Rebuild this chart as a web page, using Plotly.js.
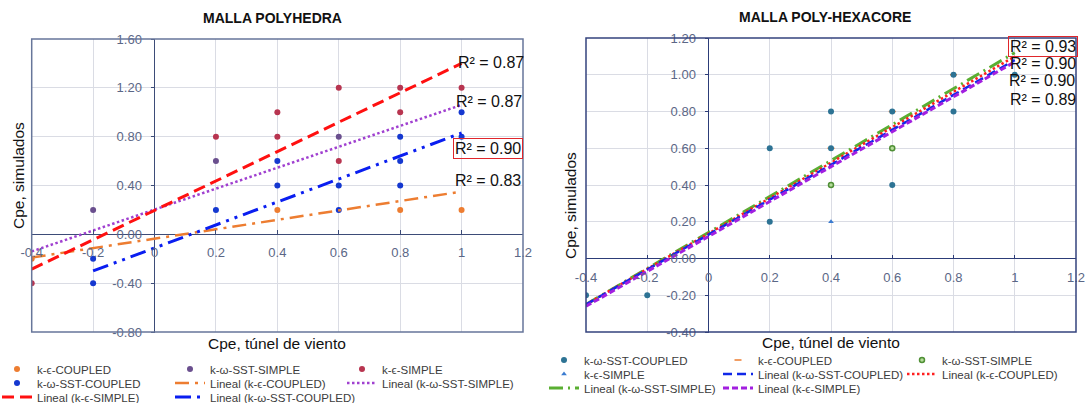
<!DOCTYPE html>
<html><head><meta charset="utf-8">
<script src="https://cdn.plot.ly/plotly-3.0.1.min.js"></script>
<style>html,body{margin:0;padding:0;background:#fff}#chart{width:1088px;height:403px}</style>
</head><body><div id="chart"></div>
<script>
// ===== LEFT: MALLA POLYHEDRA =====
const L_xTickVals = [-0.4,-0.2,0,0.2,0.4,0.6,0.8,1,1.2];
const L_xTickText = ["-0.4","-0.2","0","0.2","0.4","0.6","0.8","1","1.2"];
const L_yTickVals = [-0.8,-0.4,0,0.4,0.8,1.2,1.6];
const L_yTickText = ["-0.80","-0.40","0.00","0.40","0.80","1.20","1.60"];

const L_keC_x = [-0.4,0.4,0.8,1.0];
const L_keC_y = [-0.2,0.2,0.2,0.2];
const L_kwC_x = [-0.2,-0.2,0.2,0.4,0.4,0.6,0.6,0.8,0.8,0.8,1.0,1.0];
const L_kwC_y = [-0.2,-0.4,0.2,0.4,0.6,0.4,0.2,0.4,0.6,0.8,0.8,1.0];
const L_kwS_x = [-0.2,0.2,0.6];
const L_kwS_y = [0.2,0.6,0.8];
const L_keS_x = [-0.4,0.2,0.4,0.4,0.6,0.6,0.8,0.8,1.0];
const L_keS_y = [-0.4,0.8,0.8,1.0,0.6,1.2,1.0,1.2,1.2];

const L_fit_keC_x = [-0.4,1.0], L_fit_keC_y = [-0.19,0.35];
const L_fit_kwC_x = [-0.2,1.0], L_fit_kwC_y = [-0.30,0.83];
const L_fit_kwS_x = [-0.4,1.0], L_fit_kwS_y = [-0.14,1.06];
const L_fit_keS_x = [-0.4,1.0], L_fit_keS_y = [-0.285,1.40];
const L_r2 = ["R² = 0.87","R² = 0.87","R² = 0.90","R² = 0.83"];

// ===== RIGHT: MALLA POLY-HEXACORE =====
const R_xTickVals = [-0.4,-0.2,0,0.2,0.4,0.6,0.8,1,1.2];
const R_xTickText = ["-0.4","-0.2","0","0.2","0.4","0.6","0.8","1","1.2"];
const R_yTickVals = [-0.4,-0.2,0,0.2,0.4,0.6,0.8,1.0,1.2];
const R_yTickText = ["-0.40","-0.20","0.00","0.20","0.40","0.60","0.80","1.00","1.20"];

const R_keC_x = [0.4,0.6,0.8];
const R_keC_y = [0.6,0.8,1.0];
const R_kwC_x = [-0.4,-0.2,0.2,0.2,0.4,0.4,0.6,0.6,0.8,0.8,1.0];
const R_kwC_y = [-0.2,-0.2,0.2,0.6,0.6,0.8,0.8,0.4,0.8,1.0,1.0];
const R_kwS_x = [0.4,0.6];
const R_kwS_y = [0.4,0.6];
const R_keS_x = [0.4];
const R_keS_y = [0.2];

const R_fit_kwS_x = [-0.4,1.0], R_fit_kwS_y = [-0.25,1.12];
const R_fit_keC_x = [-0.4,1.0], R_fit_keC_y = [-0.25,1.10];
const R_fit_kwC_x = [-0.4,1.0], R_fit_kwC_y = [-0.25,1.08];
const R_fit_keS_x = [-0.4,1.0], R_fit_keS_y = [-0.26,1.07];
const R_r2 = ["R² = 0.93","R² = 0.90","R² = 0.90","R² = 0.89"];

// ===== layout helpers =====
const W = 1088, H = 403;
const px = v => v / W, py = v => 1 - v / H;
const FONT = "Liberation Sans, Arial, sans-serif";
function axisPos(range, domain, v){ return domain[0] + (v-range[0])/(range[1]-range[0])*(domain[1]-domain[0]); }

const L_xr = [-0.4,1.2], L_yr = [-0.8,1.6];
const R_xr = [-0.4,1.2], R_yr = [-0.4,1.2];
const L_xd = [px(31.7), px(523)], L_yd = [py(332), py(39)];
const R_xd = [px(586), px(1076)], R_yd = [py(332), py(38)];

const tickFont = {family: FONT, size: 13, color: '#5b6786'};
function xAx(range, dom, yr, yd, tv, tt, zc){
  return {domain: dom, range: range, anchor: 'free', position: axisPos(yr, yd, 0),
    tickvals: tv, ticktext: tt, showgrid: true, gridcolor: '#dadce4', gridwidth: 1,
    zeroline: true, zerolinecolor: zc, zerolinewidth: 1.5, showline: false,
    ticks: 'inside', ticklen: 4, tickcolor: zc, tickfont: tickFont, ticklabelstandoff: 9, fixedrange: true};
}
function yAx(range, dom, xr, xd, tv, tt, zc){
  return {domain: dom, range: range, anchor: 'free', position: axisPos(xr, xd, 0),
    tickvals: tv, ticktext: tt, showgrid: true, gridcolor: '#dadce4', gridwidth: 1,
    zeroline: true, zerolinecolor: zc, zerolinewidth: 1.5, showline: false,
    ticks: 'outside', ticklen: 4, tickcolor: zc, tickfont: tickFont, ticklabelstandoff: 6, fixedrange: true};
}

// legend placement: each legend is one row; rank = column, lw = width of the entry
function pts(x, y, name, leg, rank, lw, xa, ya, marker){
  return {type:'scatter', mode:'markers', x:x, y:y, name:name, legend:leg, legendrank:rank, legendwidth:lw,
    xaxis:xa, yaxis:ya, marker:marker, hoverinfo:'skip'};
}
function fit(x, y, name, leg, rank, lw, xa, ya, line){
  return {type:'scatter', mode:'lines', x:x, y:y, name:name, legend:leg, legendrank:rank, legendwidth:lw,
    xaxis:xa, yaxis:ya, line:line, hoverinfo:'skip'};
}

const traces = [
  // left
  pts(L_keC_x, L_keC_y, 'k-ϵ-COUPLED', 'legend', 1, 128, 'x', 'y', {size:6, color:'#ed7d31'}),
  pts(L_kwC_x, L_kwC_y, 'k-ω-SST-COUPLED', 'legend2', 1, 128, 'x', 'y', {size:6, color:'#1538d0'}),
  pts(L_kwS_x, L_kwS_y, 'k-ω-SST-SIMPLE', 'legend', 2, 127, 'x', 'y', {size:6, color:'#6a4f8e'}),
  pts(L_keS_x, L_keS_y, 'k-ϵ-SIMPLE', 'legend', 3, undefined, 'x', 'y', {size:6, color:'#b83550'}),
  fit(L_fit_keC_x, L_fit_keC_y, 'Lineal (k-ϵ-COUPLED)', 'legend2', 2, 127, 'x', 'y', {color:'#ed7d31', width:2.5, dash:'14px,6px,3px,6px'}),
  fit(L_fit_kwC_x, L_fit_kwC_y, 'Lineal (k-ω-SST-COUPLED)', 'legend3', 2, undefined, 'x', 'y', {color:'#0a1ef0', width:3, dash:'16px,6px,3px,6px,3px,6px'}),
  fit(L_fit_kwS_x, L_fit_kwS_y, 'Lineal (k-ω-SST-SIMPLE)', 'legend2', 3, undefined, 'x', 'y', {color:'#a040d0', width:2.5, dash:'2.5px,2.5px'}),
  fit(L_fit_keS_x, L_fit_keS_y, 'Lineal (k-ϵ-SIMPLE)', 'legend3', 1, 128, 'x', 'y', {color:'#ff1010', width:3, dash:'12px,6px'}),
  // right
  pts(R_keC_x, R_keC_y, 'k-ϵ-COUPLED', 'legend4', 2, 139, 'x2', 'y2', {symbol:'line-ew', size:5, line:{color:'#ed7d31', width:1.5}, color:'#ed7d31'}),
  pts(R_kwC_x, R_kwC_y, 'k-ω-SST-COUPLED', 'legend4', 1, 129, 'x2', 'y2', {size:6, color:'#2d7394'}),
  pts(R_kwS_x, R_kwS_y, 'k-ω-SST-SIMPLE', 'legend4', 3, undefined, 'x2', 'y2', {symbol:'circle', size:5, color:'#b5dc9a', line:{color:'#4f8f35', width:1.5}}),
  pts(R_keS_x, R_keS_y, 'k-ϵ-SIMPLE', 'legend5', 1, 129, 'x2', 'y2', {symbol:'triangle-up', size:5, color:'#3a7bd0'}),
  fit(R_fit_kwS_x, R_fit_kwS_y, 'Lineal (k-ω-SST-SIMPLE)', 'legend6', 1, 129, 'x2', 'y2', {color:'#5aaf32', width:3, dash:'14px,5px,2px,5px'}),
  fit(R_fit_keC_x, R_fit_keC_y, 'Lineal (k-ϵ-COUPLED)', 'legend5', 3, undefined, 'x2', 'y2', {color:'#ff2020', width:2.5, dash:'2.5px,2.5px'}),
  fit(R_fit_kwC_x, R_fit_kwC_y, 'Lineal (k-ω-SST-COUPLED)', 'legend5', 2, 139, 'x2', 'y2', {color:'#1028e8', width:2.5, dash:'9px,5px'}),
  fit(R_fit_keS_x, R_fit_keS_y, 'Lineal (k-ϵ-SIMPLE)', 'legend6', 2, 139, 'x2', 'y2', {color:'#a21fe0', width:3, dash:'6px,3px'})
];

function leg(xpx, rowY){
  return {x: px(xpx), y: py(rowY - 14.5), xanchor:'left', yanchor:'top', orientation:'h',
    bgcolor:'rgba(0,0,0,0)', borderwidth:0, font:{family:FONT, size:11.5, color:'#3c3c3c'},
    itemwidth:30, tracegroupgap:0, traceorder:'normal', entrywidthmode:'pixels'};
}

const ann = [];
function txt(text, xpx, ypx, size, opts){
  ann.push(Object.assign({text:text, xref:'paper', yref:'paper', x:px(xpx), y:py(ypx), showarrow:false,
    font:{family:FONT, size:size, color:'#111'}, xanchor:'center', yanchor:'middle'}, opts||{}));
}
txt('<b>MALLA POLYHEDRA</b>', 272, 18, 14);
txt('<b>MALLA POLY-HEXACORE</b>', 825, 17, 14);
txt('Cpe, túnel de viento', 277, 343, 15.5);
txt('Cpe, túnel de viento', 831, 342, 15.5);
txt('Cpe, simulados', 18, 176, 15.5, {textangle:-90});
txt('Cpe, simulados', 570, 206, 15.5, {textangle:-90});
// R² labels left
txt(L_r2[0], 456, 62, 16, {xanchor:'left'});
txt(L_r2[1], 454, 102, 16, {xanchor:'left'});
txt(L_r2[2], 453, 148, 16, {xanchor:'left', bordercolor:'#e0262b', borderwidth:1, borderpad:1});
txt(L_r2[3], 453, 180, 16, {xanchor:'left'});
// R² labels right
txt(R_r2[0], 1008, 47, 16, {xanchor:'left', bordercolor:'#e0262b', borderwidth:1, borderpad:1});
txt(R_r2[1], 1008, 63, 16, {xanchor:'left'});
txt(R_r2[2], 1007, 80, 16, {xanchor:'left'});
txt(R_r2[3], 1008, 99, 16, {xanchor:'left'});

const layout = {
  width: W, height: H, autosize: false, paper_bgcolor:'#fff', plot_bgcolor:'#fff',
  margin:{l:0, r:0, t:0, b:0, autoexpand:false}, showlegend: true,
  font:{family: FONT},
  xaxis: xAx(L_xr, L_xd, L_yr, L_yd, L_xTickVals, L_xTickText, '#3d4c78'),
  yaxis: yAx(L_yr, L_yd, L_xr, L_xd, L_yTickVals, L_yTickText, '#3d4c78'),
  xaxis2: xAx(R_xr, R_xd, R_yr, R_yd, R_xTickVals, R_xTickText, '#2c3c78'),
  yaxis2: yAx(R_yr, R_yd, R_xr, R_xd, R_yTickVals, R_yTickText, '#2c3c78'),
  legend: leg(-3, 369), legend2: leg(-3, 383), legend3: leg(-3, 397),
  legend4: leg(544, 360), legend5: leg(544, 374), legend6: leg(544, 388),
  annotations: ann,
  shapes: [
    {type:'rect', xref:'x domain', yref:'y domain', x0:0, x1:1, y0:0, y1:1, line:{color:'#67769a', width:1.5}, layer:'above'},
    {type:'rect', xref:'x2 domain', yref:'y2 domain', x0:0, x1:1, y0:0, y1:1, line:{color:'#34437e', width:1.5}, layer:'above'}
  ]
};
Plotly.newPlot('chart', traces, layout, {displayModeBar:false, staticPlot:true});
</script></body></html>
